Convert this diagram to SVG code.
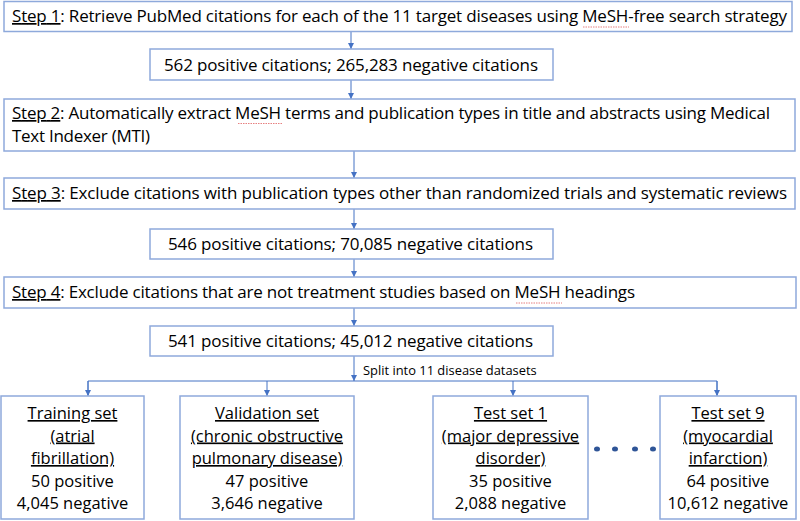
<svg xmlns="http://www.w3.org/2000/svg" width="800" height="521" viewBox="0 0 800 521">
<style>
.box{fill:#fff;stroke:#8EA9DB;stroke-width:1.5}
.t{font-family:"Open Sans","Liberation Sans",sans-serif;font-size:17px;fill:#000}
.b{font-family:"Open Sans","Liberation Sans",sans-serif;font-size:16.5px;fill:#000;text-anchor:middle}
.u{text-decoration:underline}
.s{font-family:"Open Sans","Liberation Sans",sans-serif;font-size:12.9px;fill:#000}
.c{stroke:#4472C4;stroke-width:1;fill:none}
.sq{stroke:#E06060;stroke-width:0.8;fill:none;stroke-dasharray:1.5 1}
</style>
<defs>
<marker id="ah" viewBox="0 0 10 10" refX="10" refY="5" markerWidth="6" markerHeight="6" markerUnits="userSpaceOnUse" orient="auto">
<path d="M0,0 L10,5 L0,10 z" fill="#4472C4"/>
</marker>
</defs>
<g id="connectors">
<line class="c" x1="351" y1="31" x2="351" y2="49" marker-end="url(#ah)"/>
<line class="c" x1="351" y1="80" x2="351" y2="99" marker-end="url(#ah)"/>
<line class="c" x1="354" y1="151" x2="354" y2="178" marker-end="url(#ah)"/>
<line class="c" x1="354" y1="209" x2="354" y2="229" marker-end="url(#ah)"/>
<line class="c" x1="354" y1="259" x2="354" y2="277" marker-end="url(#ah)"/>
<line class="c" x1="354" y1="308" x2="354" y2="326" marker-end="url(#ah)"/>
<line class="c" x1="354" y1="356" x2="354" y2="381" marker-end="url(#ah)"/>
<polyline class="c" points="88,395 88,381 717,381 717,395"/>
<line class="c" x1="88" y1="381" x2="88" y2="396" marker-end="url(#ah)"/>
<line class="c" x1="267" y1="381" x2="267" y2="396" marker-end="url(#ah)"/>
<line class="c" x1="513" y1="381" x2="513" y2="396" marker-end="url(#ah)"/>
<line class="c" x1="717" y1="381" x2="717" y2="396" marker-end="url(#ah)"/>
<text class="s" x="363" y="375">Split into 11 disease datasets</text>
</g>
<g id="step1">
<rect class="box" x="4" y="1.5" width="788" height="30"/>
<text class="t" x="12" y="22" textLength="775"><tspan class="u">Step 1</tspan>: Retrieve PubMed citations for each of the 11 target diseases using MeSH-free search strategy</text>
<path class="sq" d="M583,27 L629,27"/>
</g>
<g id="count1">
<rect class="box" x="150" y="49" width="403" height="31"/>
<text class="t" x="164" y="71" textLength="374">562 positive citations; 265,283 negative citations</text>
</g>
<g id="step2">
<rect class="box" x="4" y="99" width="791" height="52"/>
<text class="t" x="12" y="119" textLength="758"><tspan class="u">Step 2</tspan>: Automatically extract MeSH terms and publication types in title and abstracts using Medical</text>
<text class="t" x="12" y="142" textLength="138">Text Indexer (MTI)</text>
<path class="sq" d="M238,123.5 L283,123.5"/>
</g>
<g id="step3">
<rect class="box" x="4" y="178" width="791" height="31"/>
<text class="t" x="12" y="199" textLength="775"><tspan class="u">Step 3</tspan>: Exclude citations with publication types other than randomized trials and systematic reviews</text>
</g>
<g id="count2">
<rect class="box" x="150" y="229" width="403" height="30"/>
<text class="t" x="168" y="250" textLength="365">546 positive citations; 70,085 negative citations</text>
</g>
<g id="step4">
<rect class="box" x="4" y="277" width="792" height="31"/>
<text class="t" x="12" y="298" textLength="623"><tspan class="u">Step 4</tspan>: Exclude citations that are not treatment studies based on MeSH headings</text>
<path class="sq" d="M516,303 L562,303"/>
</g>
<g id="count3">
<rect class="box" x="150" y="326" width="403" height="30"/>
<text class="t" x="168" y="347" textLength="365">541 positive citations; 45,012 negative citations</text>
</g>
<g id="training">
<rect class="box" x="1" y="396" width="143" height="123"/>
<text class="b u" x="72.5" y="419">Training set</text>
<text class="b u" x="72.5" y="441.5">(atrial</text>
<text class="b u" x="72.5" y="464">fibrillation)</text>
<text class="b" x="72.5" y="486.5">50 positive</text>
<text class="b" x="72.5" y="509">4,045 negative</text>
</g>
<g id="validation">
<rect class="box" x="180" y="396" width="174" height="123"/>
<text class="b u" x="267" y="419">Validation set</text>
<text class="b u" x="267" y="441.5">(chronic obstructive</text>
<text class="b u" x="267" y="464">pulmonary disease)</text>
<text class="b" x="267" y="486.5">47 positive</text>
<text class="b" x="267" y="509">3,646 negative</text>
</g>
<g id="test1">
<rect class="box" x="433" y="396" width="155" height="123"/>
<text class="b u" x="510.5" y="419">Test set 1</text>
<text class="b u" x="510.5" y="441.5">(major depressive</text>
<text class="b u" x="510.5" y="464">disorder)</text>
<text class="b" x="510.5" y="486.5">35 positive</text>
<text class="b" x="510.5" y="509">2,088 negative</text>
</g>
<g id="dots" fill="#2F5597">
<ellipse cx="597" cy="449" rx="3" ry="2.5"/>
<ellipse cx="615" cy="449" rx="3" ry="2.5"/>
<ellipse cx="635" cy="449" rx="3" ry="2.5"/>
<ellipse cx="653" cy="449" rx="3" ry="2.5"/>
</g>
<g id="test9">
<rect class="box" x="660" y="396" width="136" height="123"/>
<text class="b u" x="728" y="419">Test set 9</text>
<text class="b u" x="728" y="441.5">(myocardial</text>
<text class="b u" x="728" y="464">infarction)</text>
<text class="b" x="728" y="486.5">64 positive</text>
<text class="b" x="728" y="509">10,612 negative</text>
</g>
</svg>
